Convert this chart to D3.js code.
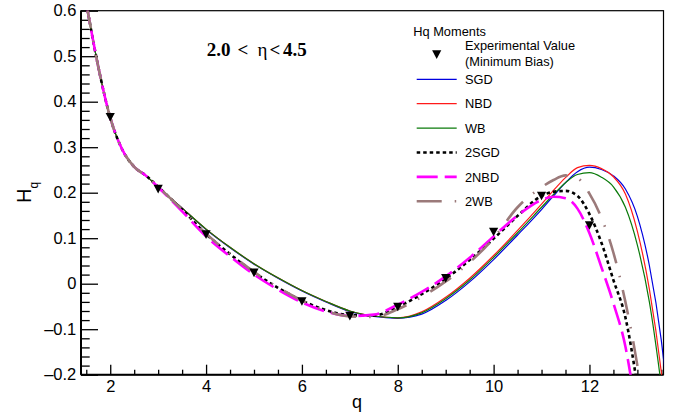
<!DOCTYPE html>
<html><head><meta charset="utf-8">
<script src="https://cdn.jsdelivr.net/npm/d3@7"></script>
<style>body{margin:0;background:#fff} svg{display:block}</style>
</head><body>
<svg id="c" width="678" height="420"></svg>
<script>
// ---------- data ----------
const qGrid = [1.5,1.75,2,2.25,2.5,2.75,3,3.25,3.5,4,4.5,5,5.5,6,6.5,7,7.5,8,8.5,9,9.5,10,10.5,11,11.25,11.5,11.75,12,12.25,12.5,12.75,13,13.25,13.5,13.6];
const sgdVals  = [0.617,0.477,0.365,0.295,0.257,0.237,0.213,0.189,0.166,0.119,0.079,0.043,0.012,-0.016,-0.040,-0.061,-0.072,-0.076,-0.067,-0.037,0.004,0.053,0.107,0.163,0.193,0.222,0.246,0.256,0.251,0.237,0.208,0.148,0.040,-0.125,-0.215];
const nbdVals  = [0.617,0.477,0.365,0.295,0.257,0.237,0.213,0.189,0.166,0.120,0.080,0.044,0.013,-0.015,-0.039,-0.060,-0.071,-0.075,-0.062,-0.030,0.012,0.062,0.117,0.175,0.205,0.233,0.255,0.260,0.253,0.235,0.197,0.115,-0.012,-0.195,-0.29];
const wbVals   = [0.617,0.477,0.365,0.295,0.257,0.237,0.213,0.189,0.166,0.120,0.080,0.044,0.013,-0.015,-0.039,-0.060,-0.071,-0.075,-0.064,-0.033,0.008,0.058,0.112,0.168,0.196,0.222,0.240,0.244,0.234,0.213,0.168,0.085,-0.040,-0.225,-0.31];
const sgd2Vals = [0.617,0.477,0.365,0.295,0.257,0.237,0.213,0.188,0.163,0.109,0.065,0.025,-0.009,-0.037,-0.058,-0.069,-0.070,-0.051,-0.023,0.011,0.052,0.099,0.149,0.193,0.202,0.204,0.193,0.153,0.090,0.008,-0.074,-0.225];
const nbd2Vals = [0.617,0.477,0.365,0.295,0.257,0.237,0.212,0.186,0.159,0.104,0.060,0.020,-0.013,-0.041,-0.061,-0.071,-0.068,-0.046,-0.018,0.016,0.057,0.104,0.150,0.184,0.191,0.188,0.165,0.111,0.036,-0.043,-0.138,-0.30];
const wb2Vals  = [0.617,0.477,0.365,0.295,0.257,0.237,0.213,0.188,0.163,0.110,0.066,0.026,-0.008,-0.037,-0.060,-0.072,-0.073,-0.056,-0.029,0.005,0.047,0.100,0.168,0.212,0.228,0.238,0.232,0.198,0.145,0.068,-0.040,-0.180,-0.36];
const expQ   = [2,3,4,5,6,7,8,9,10,11,12];
const expVal = [0.366,0.208,0.108,0.024,-0.039,-0.071,-0.051,0.012,0.114,0.193,0.128];
const xTickVals = [2,4,6,8,10,12];
const yTickVals = [-0.2,-0.1,0,0.1,0.2,0.3,0.4,0.5,0.6];
const seriesNames = ["SGD","NBD","WB","2SGD","2NBD","2WB"];
const seriesVals = [sgdVals, nbdVals, wbVals, sgd2Vals, nbd2Vals, wb2Vals];

// ---------- styles ----------
const styles = [
  {color:"#0000e0", width:1.2, dash:null},
  {color:"#ff1a1a", width:1.2, dash:null},
  {color:"#0a7a0a", width:1.2, dash:null},
  {color:"#000000", width:2.6, dash:"3.5,3"},
  {color:"#ff00ff", width:2.6, dash:"21,7"},
  {color:"#9b7a7a", width:2.6, dash:"25,13,1.5,13"}
];

const svg = d3.select("#c");
svg.append("rect").attr("width",678).attr("height",420).attr("fill","#fff");

const L=81, R=663.5, T=10.7, B=374.7;
const x = d3.scaleLinear().domain([1.39,13.545]).range([L,R]);
const y = d3.scaleLinear().domain([-0.2,0.6]).range([B,T]);

svg.append("defs").append("clipPath").attr("id","clip")
  .append("rect").attr("x",L).attr("y",T).attr("width",R-L).attr("height",B-T);

// frame
svg.append("rect").attr("x",L).attr("y",T).attr("width",R-L).attr("height",B-T)
  .attr("fill","none").attr("stroke","#000").attr("stroke-width",1.2);

const font = "'Liberation Sans', Arial, sans-serif";

// x axis
const xMinor = d3.range(1.5,13.51,0.5).filter(v=>!xTickVals.includes(v));
svg.append("g").attr("transform",`translate(0,${B})`)
  .call(d3.axisBottom(x).tickValues(xMinor).tickSize(-5).tickFormat(""))
  .call(g=>g.select(".domain").remove());
const gx = svg.append("g").attr("transform",`translate(0,${B})`)
  .call(d3.axisBottom(x).tickValues(xTickVals).tickSize(-10).tickPadding(5.5).tickFormat(d3.format("d")))
  .call(g=>g.select(".domain").remove());
gx.selectAll("text").attr("font-family",font).attr("font-size",16.5).attr("fill","#000");
svg.selectAll("g .tick line").attr("stroke","#000").attr("stroke-width",1.3);

// y axis
const yMinor = d3.range(-0.2,0.6001,0.02).filter(v=>!yTickVals.some(t=>Math.abs(t-v)<1e-6));
svg.append("g").attr("transform",`translate(${L},0)`)
  .call(d3.axisLeft(y).tickValues(yMinor).tickSize(-8.7).tickFormat(""))
  .call(g=>g.select(".domain").remove())
  .selectAll("line").attr("stroke","#000").attr("stroke-width",1.3);
const gy = svg.append("g").attr("transform",`translate(${L},0)`)
  .call(d3.axisLeft(y).tickValues(yTickVals).tickSize(-17).tickPadding(4.7).tickFormat(d=>d===0?"0":d3.format(".1f")(d).replace("−","–")))
  .call(g=>g.select(".domain").remove());
gy.selectAll("text").attr("font-family",font).attr("font-size",16.5).attr("fill","#000");
gy.selectAll("line").attr("stroke","#000").attr("stroke-width",1.3);

// axis lines
svg.append("line").attr("x1",L).attr("x2",R).attr("y1",B).attr("y2",B).attr("stroke","#000").attr("stroke-width",2);
svg.append("line").attr("x1",L).attr("x2",L).attr("y1",T).attr("y2",B).attr("stroke","#000").attr("stroke-width",2);

// axis titles
svg.append("text").attr("x",352).attr("y",407.5).attr("font-family",font).attr("font-size",18).text("q");
const yt = svg.append("text").attr("transform","translate(30.7,203) rotate(-90)")
  .attr("font-family",font).attr("font-size",20);
yt.append("tspan").text("H");
yt.append("tspan").attr("font-size",12).attr("dy",7).text("q");

// curves
const line = d3.line().x(d=>x(d[0])).y(d=>y(d[1])).curve(d3.curveMonotoneX);
const plot = svg.append("g").attr("clip-path","url(#clip)");
seriesVals.forEach((vals,i)=>{
  const pts = vals.map((v,k)=>[qGrid[k],v]);
  const p = plot.append("path").datum(pts).attr("d",line)
    .attr("fill","none").attr("stroke",styles[i].color).attr("stroke-width",styles[i].width);
  if(styles[i].dash) p.attr("stroke-dasharray",styles[i].dash);
});

// markers
const tri = "M-4.6,-4.2L4.6,-4.2L0,4.4Z";
plot.selectAll("path.m").data(expQ.map((q,i)=>[q,expVal[i]])).enter().append("path")
  .attr("class","m").attr("d",tri).attr("fill","#000")
  .attr("transform",d=>`translate(${x(d[0])},${y(d[1])})`);

// annotation
const annFont = "'Liberation Serif', 'Times New Roman', serif";
const ann = svg.append("text").attr("y",55.5).attr("font-family",annFont)
  .attr("font-size",19).attr("font-weight","bold");
ann.append("tspan").attr("x",206.7).text("2.0");
ann.append("tspan").attr("x",237.5).text("<");
ann.append("tspan").attr("x",257.5).attr("font-weight","normal").text("η");
ann.append("tspan").attr("x",269.5).text("<");
ann.append("tspan").attr("x",283).text("4.5");

// legend
const lf = 12.8;
svg.append("text").attr("x",413.3).attr("y",36).attr("font-family",font).attr("font-size",lf).text("Hq Moments");
svg.append("text").attr("x",465).attr("y",50).attr("font-family",font).attr("font-size",lf).text("Experimental Value");
svg.append("text").attr("x",465).attr("y",66).attr("font-family",font).attr("font-size",lf).text("(Minimum Bias)");
svg.append("path").attr("d",tri).attr("fill","#000").attr("transform","translate(436.7,54.5)");
const legY = [79.3,103.7,128.1,152.5,176.9,201.3];
seriesNames.forEach((n,i)=>{
  const l = svg.append("line").attr("x1",416.7).attr("x2",456.7).attr("y1",legY[i]).attr("y2",legY[i])
    .attr("stroke",styles[i].color).attr("stroke-width",styles[i].width);
  if(styles[i].dash) l.attr("stroke-dasharray",styles[i].dash);
  svg.append("text").attr("x",465).attr("y",legY[i]+4.6).attr("font-family",font).attr("font-size",lf).text(n);
});
</script>
</body></html>
